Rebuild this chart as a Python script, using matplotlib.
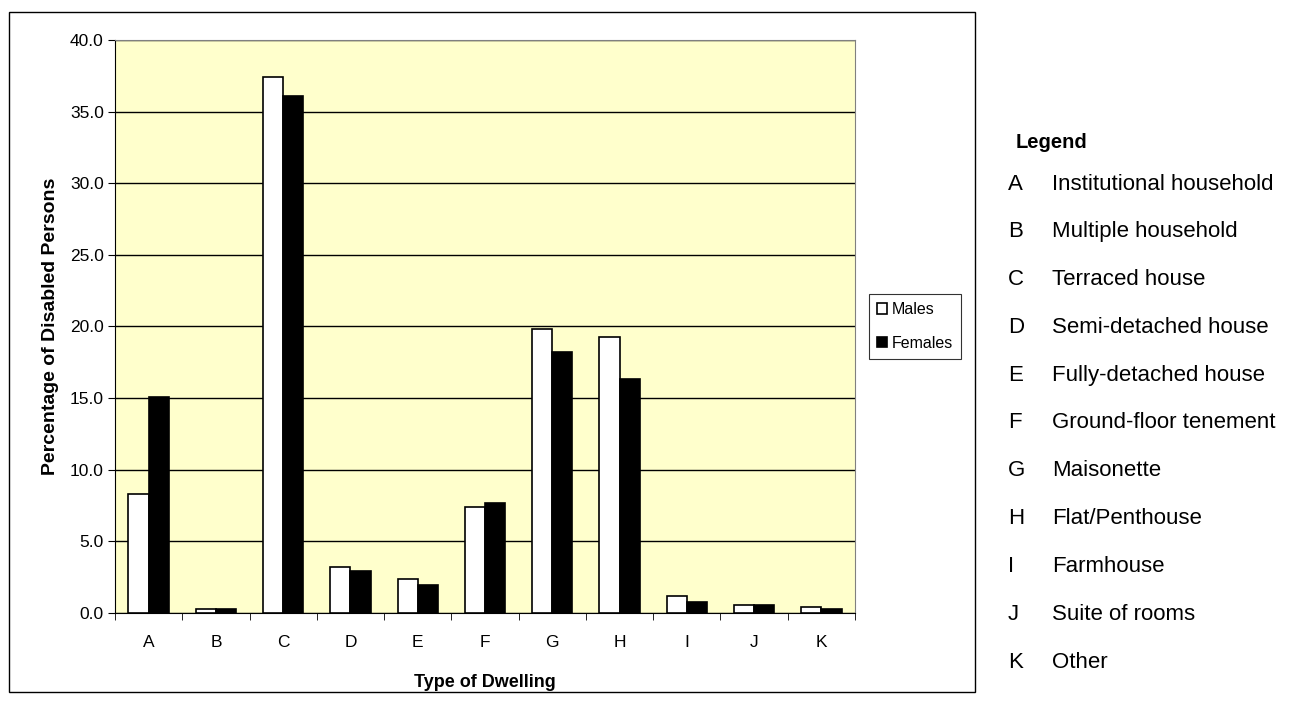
import matplotlib.pyplot as plt
import numpy as np
from matplotlib.patches import Rectangle
from matplotlib.ticker import FormatStrFormatter

plt.rcParams['font.family'] = ['Liberation Sans', 'DejaVu Sans']

categories = ['A', 'B', 'C', 'D', 'E', 'F', 'G', 'H', 'I', 'J', 'K']
males = [8.3, 0.26, 37.4, 3.2, 2.4, 7.4, 19.8, 19.3, 1.2, 0.55, 0.4]
females = [15.1, 0.25, 36.1, 2.9, 1.95, 7.7, 18.2, 16.3, 0.8, 0.55, 0.26]
descriptions = ['Institutional household', 'Multiple household', 'Terraced house',
                'Semi-detached house', 'Fully-detached house', 'Ground-floor tenement',
                'Maisonette', 'Flat/Penthouse', 'Farmhouse', 'Suite of rooms', 'Other']

fig = plt.figure(figsize=(13.02, 7.04), dpi=100)
ax = fig.add_axes([0.0883, 0.1293, 0.5684, 0.8139])
ax.set_facecolor('#FFFFCC')

x = np.arange(len(categories))
w = 0.3
ax.bar(x - w / 2, males, w, color='white', edgecolor='black', linewidth=1.2,
       label='Males', zorder=3)
ax.bar(x + w / 2, females, w, color='black', edgecolor='black', linewidth=1.2,
       label='Females', zorder=3)

ax.set_xlim(-0.5, len(categories) - 0.5)
ax.set_ylim(0, 40)
ax.set_yticks(np.arange(0, 41, 5))
ax.yaxis.set_major_formatter(FormatStrFormatter('%.1f'))
ax.yaxis.grid(True, color='black', linewidth=1.0, zorder=0)
ax.set_axisbelow(True)

# category labels centred, tick marks between groups
ax.set_xticks(x)
ax.set_xticklabels(categories)
ax.set_xticks(np.arange(-0.5, len(categories)), minor=True)
ax.tick_params(axis='x', which='major', length=0, pad=16, labelsize=12.5)
ax.tick_params(axis='x', which='minor', length=5, direction='out', color='black')
ax.tick_params(axis='y', length=5, direction='out', labelsize=12.5, pad=3)

for side in ['top', 'right']:
    ax.spines[side].set_color('#808080')
for side in ['left', 'bottom']:
    ax.spines[side].set_color('black')

ax.set_xlabel('Type of Dwelling', fontsize=13, fontweight='bold', labelpad=17)
ax.set_ylabel('Percentage of Disabled Persons', fontsize=14, fontweight='bold', labelpad=8)

leg = ax.legend(loc='center left', bbox_to_anchor=(1.012, 0.5), fontsize=11.5,
                frameon=True, fancybox=False, edgecolor='black',
                handlelength=0.65, handleheight=0.65, handletextpad=0.3,
                borderpad=0.5, labelspacing=1.15, borderaxespad=0.3)
leg.get_frame().set_linewidth(0.8)

# outer chart border
fig.patches.append(Rectangle((9 / 1302, 1 - 692 / 704), (975 - 9) / 1302, (692 - 12) / 704,
                             transform=fig.transFigure, fill=False,
                             edgecolor='black', linewidth=1.0))

# key for the category letters
fig.text(1016 / 1302, 1 - 143 / 704, 'Legend', fontsize=14.5, fontweight='bold',
         ha='left', va='center')
for i, (c, d) in enumerate(zip(categories, descriptions)):
    yy = 1 - (184 + i * 47.8) / 704
    fig.text(1008 / 1302, yy, c, fontsize=16, ha='left', va='center')
    fig.text(1052 / 1302, yy, d, fontsize=16, ha='left', va='center')

fig.savefig('out.png', dpi=100)
